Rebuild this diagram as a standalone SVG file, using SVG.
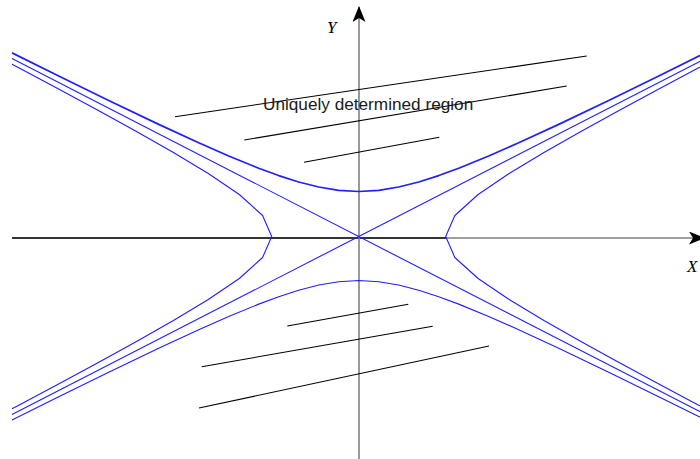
<svg xmlns="http://www.w3.org/2000/svg" width="700" height="459" viewBox="0 0 700 459">
<style>
.hyp{fill:none;stroke:#1f1fff;stroke-width:1.1;stroke-linejoin:round}
.thick{stroke-width:1.7}
.hatch{stroke:#000;stroke-width:1.1;fill:none}
.axis{stroke:#808080;stroke-width:1.6;fill:none}
.axisdark{stroke:#111;stroke-width:1.3;fill:none}
.lab{font-family:"Liberation Serif",serif;font-style:italic;font-size:17px;fill:#000}
.txt{font-family:"Liberation Sans",Arial,sans-serif;font-size:17.2px;fill:#1a1a1a}
</style>
<defs>
<marker id="arr" viewBox="0 0 16 13" refX="15" refY="6.5" markerWidth="16" markerHeight="13" markerUnits="userSpaceOnUse" orient="auto">
<path d="M0,0 L16,6.5 L0,13 L4,6.5 Z" fill="#000"/>
</marker>
</defs>
<g id="axes">
<line class="axis" x1="12" y1="238" x2="704" y2="238" marker-end="url(#arr)"/>
<line class="axisdark" x1="12" y1="238" x2="446" y2="238"/>
<line class="axis" x1="359" y1="459" x2="359" y2="7" marker-end="url(#arr)"/>
</g>
<g id="labels">
<text class="lab" x="327" y="33">Y</text>
<text class="lab" x="687" y="272">X</text>
</g>
<g id="connectors">
<g id="hatch-top">
<line class="hatch" x1="175" y1="116.7" x2="586.7" y2="56"/>
<line class="hatch" x1="244.3" y1="140" x2="566.7" y2="86"/>
<line class="hatch" x1="304" y1="162.3" x2="439.3" y2="137.3"/>
</g>
<g id="hatch-bottom">
<line class="hatch" x1="287.3" y1="326" x2="408.3" y2="304.3"/>
<line class="hatch" x1="201.7" y1="366.7" x2="432.7" y2="326.3"/>
<line class="hatch" x1="199" y1="408" x2="489" y2="346"/>
</g>
<g id="curves" transform="translate(358.7,236.5)">
<path id="asym1" class="hyp" d="M-346.7,-178 L346.7,178"/>
<path id="asym2" class="hyp" d="M-346.7,178 L346.7,-178"/>
<path id="upper" class="hyp thick" d="M-346.7,-183.63 L-300,-160.49 L-250,-136.04 L-200,-112.13 L-160,-93.68 L-130,-80.51 L-100,-68.28 L-80,-60.93 L-60,-54.54 L-40,-49.47 L-20,-46.16 L0,-45 L20,-46.16 L40,-49.47 L60,-54.54 L80,-60.93 L100,-68.28 L130,-80.51 L160,-93.68 L200,-112.13 L250,-136.04 L300,-160.49 L346.7,-183.63"/>
<path id="lower" class="hyp" d="M-346.7,183.39 L-300,160.21 L-250,135.71 L-200,111.73 L-160,93.2 L-130,79.95 L-100,67.62 L-80,60.2 L-60,53.71 L-40,48.56 L-20,45.18 L0,44 L20,45.18 L40,48.56 L60,53.71 L80,60.2 L100,67.62 L130,79.95 L160,93.2 L200,111.73 L250,135.71 L300,160.21 L346.7,183.39"/>
<path id="left" class="hyp" d="M-346.7,-172.3 L-338.53,-168 L-299.2,-147 L-260.34,-126 L-222.22,-105 L-185.28,-84 L-150.41,-63 L-119.41,-42 L-96.13,-21 L-87,0 L-96.13,21 L-119.41,42 L-150.41,63 L-185.28,84 L-222.22,105 L-260.34,126 L-299.2,147 L-338.53,168 L-346.7,172.3"/>
<path id="right" class="hyp" d="M346.7,-172.3 L338.53,-168 L299.2,-147 L260.34,-126 L222.22,-105 L185.28,-84 L150.41,-63 L119.41,-42 L96.13,-21 L87,0 L96.13,21 L119.41,42 L150.41,63 L185.28,84 L222.22,105 L260.34,126 L299.2,147 L338.53,168 L346.7,172.3"/>
</g>
</g>
<g id="region-label">
<text class="txt" x="263" y="110">Uniquely determined region</text>
</g>
</svg>
